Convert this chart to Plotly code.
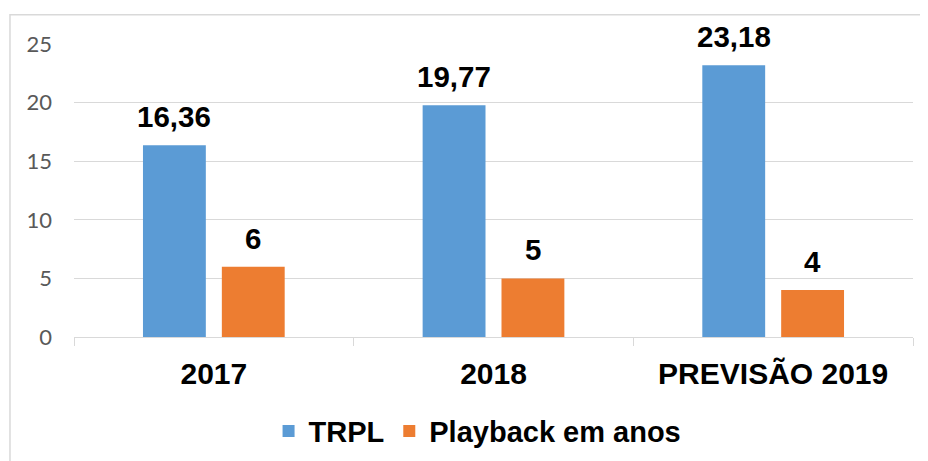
import plotly.graph_objects as go

categories = ["2017", "2018", "PREVISÃO 2019"]
trpl = [16.36, 19.77, 23.18]
playback = [6, 5, 4]
series_names = ["TRPL", "Playback em anos"]
y_ticks = [0, 5, 10, 15, 20, 25]

BLUE = "#5B9BD5"
ORANGE = "#ED7D31"
GRID = "#D9D9D9"
ARIAL = "Liberation Sans, Arial, sans-serif"

def fmt(v):
    s = f"{v:.2f}".rstrip("0").rstrip(".") if isinstance(v, float) else str(v)
    return s.replace(".", ",")

fig = go.Figure()
fig.add_trace(go.Bar(x=categories, y=trpl, name=series_names[0], marker_color=BLUE,
                     marker_line_width=0))
fig.add_trace(go.Bar(x=categories, y=playback, name=series_names[1], marker_color=ORANGE,
                     marker_line_width=0))

annotations = []
for vals, shift in ((trpl, -39.5), (playback, 39.5)):
    for i, v in enumerate(vals):
        annotations.append(dict(
            x=i, y=v, xref="x", yref="y", text=fmt(v), showarrow=False,
            xanchor="center", yanchor="bottom", xshift=shift, yshift=10,
            font=dict(family=ARIAL, size=29.5, color="#000000", weight="bold"),
        ))

fig.update_layout(
    width=920, height=453,
    margin=dict(l=66, r=15, t=35.5, b=123.5, autoexpand=False),
    paper_bgcolor="white", plot_bgcolor="white",
    barmode="group", bargap=0.436, bargroupgap=0.203,
    font=dict(family=ARIAL),
    annotations=annotations,
    legend=dict(orientation="h", x=0.481, xanchor="center", y=-0.321, yanchor="middle",
                font=dict(family=ARIAL, size=29, color="#000000", weight="bold"),
                traceorder="normal"),
    shapes=[dict(type="rect", xref="paper", yref="paper", x0=-0.0763, x1=1.1, y0=-0.5, y1=1.100,
                 line=dict(color=GRID, width=1.5), fillcolor="rgba(0,0,0,0)", layer="below")],
    xaxis=dict(type="category", categoryorder="array", categoryarray=categories,
               range=[-0.5, 2.5], autorange=False,
               showline=True, linecolor=GRID, linewidth=1.3, ticks="outside",
               tickson="boundaries", ticklen=8, tickcolor=GRID, tickwidth=1.3,
               tickfont=dict(family=ARIAL, size=30, color="#000000", weight="bold"),
               ticklabelstandoff=10),
    yaxis=dict(range=[0, 25], tickvals=y_ticks, showgrid=True, gridcolor=GRID, gridwidth=1.3,
               zeroline=False, showline=False, ticks="",
               tickfont=dict(family="Lato, Carlito, sans-serif", size=22, color="#595959"),
               ticklabelstandoff=21),
)

fig.write_html("out.html")
